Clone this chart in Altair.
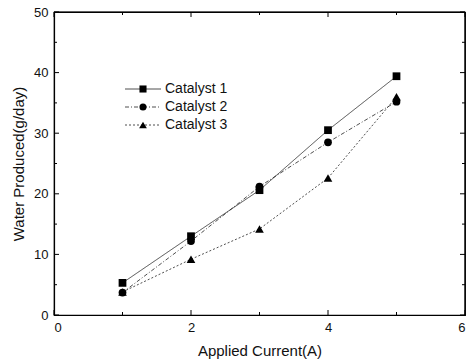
import altair as alt
import pandas as pd

currents = [1, 2, 3, 4, 5]
catalyst1 = [5.3, 13.0, 20.6, 30.5, 39.4]
catalyst2 = [3.7, 12.2, 21.2, 28.5, 35.2]
catalyst3 = [3.8, 9.2, 14.2, 22.6, 36.0]
series_names = ["Catalyst 1", "Catalyst 2", "Catalyst 3"]
shapes = ["square", "circle", "triangle-up"]
dashes = [[1, 0], [4, 2, 1, 2], [2, 2]]

x_major = [0, 2, 4, 6]
x_minor = [1, 3, 5]
y_major = [0, 10, 20, 30, 40, 50]
y_minor = [5, 15, 25, 35, 45]

W, H = 411, 303
FONT = "Liberation Sans"

xs = alt.Scale(domain=[0, 6], nice=False, zero=False)
ys = alt.Scale(domain=[0, 50], nice=False, zero=False)

layers = []
for name, vals, shp, dsh in zip(series_names, [catalyst1, catalyst2, catalyst3], shapes, dashes):
    df = pd.DataFrame({"x": currents, "y": vals})
    base = alt.Chart(df)
    layers.append(base.mark_line(color="#222", strokeWidth=0.8, strokeDash=dsh).encode(
        x=alt.X("x:Q", scale=xs), y=alt.Y("y:Q", scale=ys)))
    layers.append(base.mark_point(shape=shp, filled=True, color="black", opacity=1,
                                  size=60 if shp != "triangle-up" else 75).encode(
        x=alt.X("x:Q", scale=xs), y=alt.Y("y:Q", scale=ys)))

# axes (labels + titles), no ticks
axis_layer = alt.Chart(pd.DataFrame({"x": [0], "y": [0]})).mark_point(opacity=0).encode(
    x=alt.X("x:Q", scale=xs, title="Applied Current(A)",
            axis=alt.Axis(values=x_major, format="d", ticks=False, grid=False, domain=True,
                          domainColor="black", domainWidth=1.2,
                          labelFont=FONT, labelFontSize=13, labelColor="#111",
                          labelPadding=6, titleFont=FONT, titleFontSize=15,
                          titleFontWeight="normal", titleColor="#111", titlePadding=9)),
    y=alt.Y("y:Q", scale=ys, title="Water Produced(g/day)",
            axis=alt.Axis(values=y_major, format="d", ticks=False, grid=False, domain=True,
                          domainColor="black", domainWidth=1.2,
                          labelFont=FONT, labelFontSize=13, labelColor="#111",
                          labelPadding=6, titleFont=FONT, titleFontSize=15,
                          titleFontWeight="normal", titleColor="#111", titlePadding=7)),
)
layers.append(axis_layer)

# frame top and right
frame = alt.Chart(pd.DataFrame({"k": [0]})).mark_rule(color="black", strokeWidth=1.2)
layers.append(frame.encode(x=alt.value(0), x2=alt.value(W), y=alt.value(0)))
layers.append(frame.encode(x=alt.value(W), y=alt.value(0), y2=alt.value(H)))

def xticks(vals, length):
    df = pd.DataFrame({"x": vals})
    b = alt.Chart(df).mark_rule(color="black", strokeWidth=1)
    return [
        b.encode(x=alt.X("x:Q", scale=xs), y=alt.value(H), y2=alt.value(H - length)),
        b.encode(x=alt.X("x:Q", scale=xs), y=alt.value(0), y2=alt.value(length)),
    ]

def yticks(vals, length):
    df = pd.DataFrame({"y": vals})
    b = alt.Chart(df).mark_rule(color="black", strokeWidth=1)
    return [
        b.encode(y=alt.Y("y:Q", scale=ys), x=alt.value(0), x2=alt.value(length)),
        b.encode(y=alt.Y("y:Q", scale=ys), x=alt.value(W), x2=alt.value(W - length)),
    ]

layers += xticks(x_major, 5) + xticks(x_minor, 3) + yticks(y_major, 5) + yticks(y_minor, 3)

# manual legend
leg_x0, leg_x1, leg_y0, leg_dy = 71, 107, 77, 18
for i, (name, shp, dsh) in enumerate(zip(series_names, shapes, dashes)):
    ly = leg_y0 + i * leg_dy
    d = pd.DataFrame({"label": [name]})
    b = alt.Chart(d)
    layers.append(b.mark_rule(color="#222", strokeWidth=0.8, strokeDash=dsh).encode(
        x=alt.value(leg_x0), x2=alt.value(leg_x1), y=alt.value(ly)))
    layers.append(b.mark_point(shape=shp, filled=True, color="black", opacity=1,
                               size=50 if shp != "triangle-up" else 60).encode(
        x=alt.value((leg_x0 + leg_x1) / 2), y=alt.value(ly)))
    layers.append(b.mark_text(align="left", baseline="middle", font=FONT, fontSize=14,
                              color="#111").encode(
        x=alt.value(leg_x1 + 4), y=alt.value(ly), text="label:N"))

chart = alt.layer(*layers).properties(
    width=W, height=H,
    autosize=alt.AutoSizeParams(type="none"),
    padding={"left": 54, "top": 12, "right": 3, "bottom": 45},
).configure(background="white").configure_view(stroke="black", strokeWidth=1.2)

chart.save("out.html", embed_options={"renderer": "svg", "actions": False})
